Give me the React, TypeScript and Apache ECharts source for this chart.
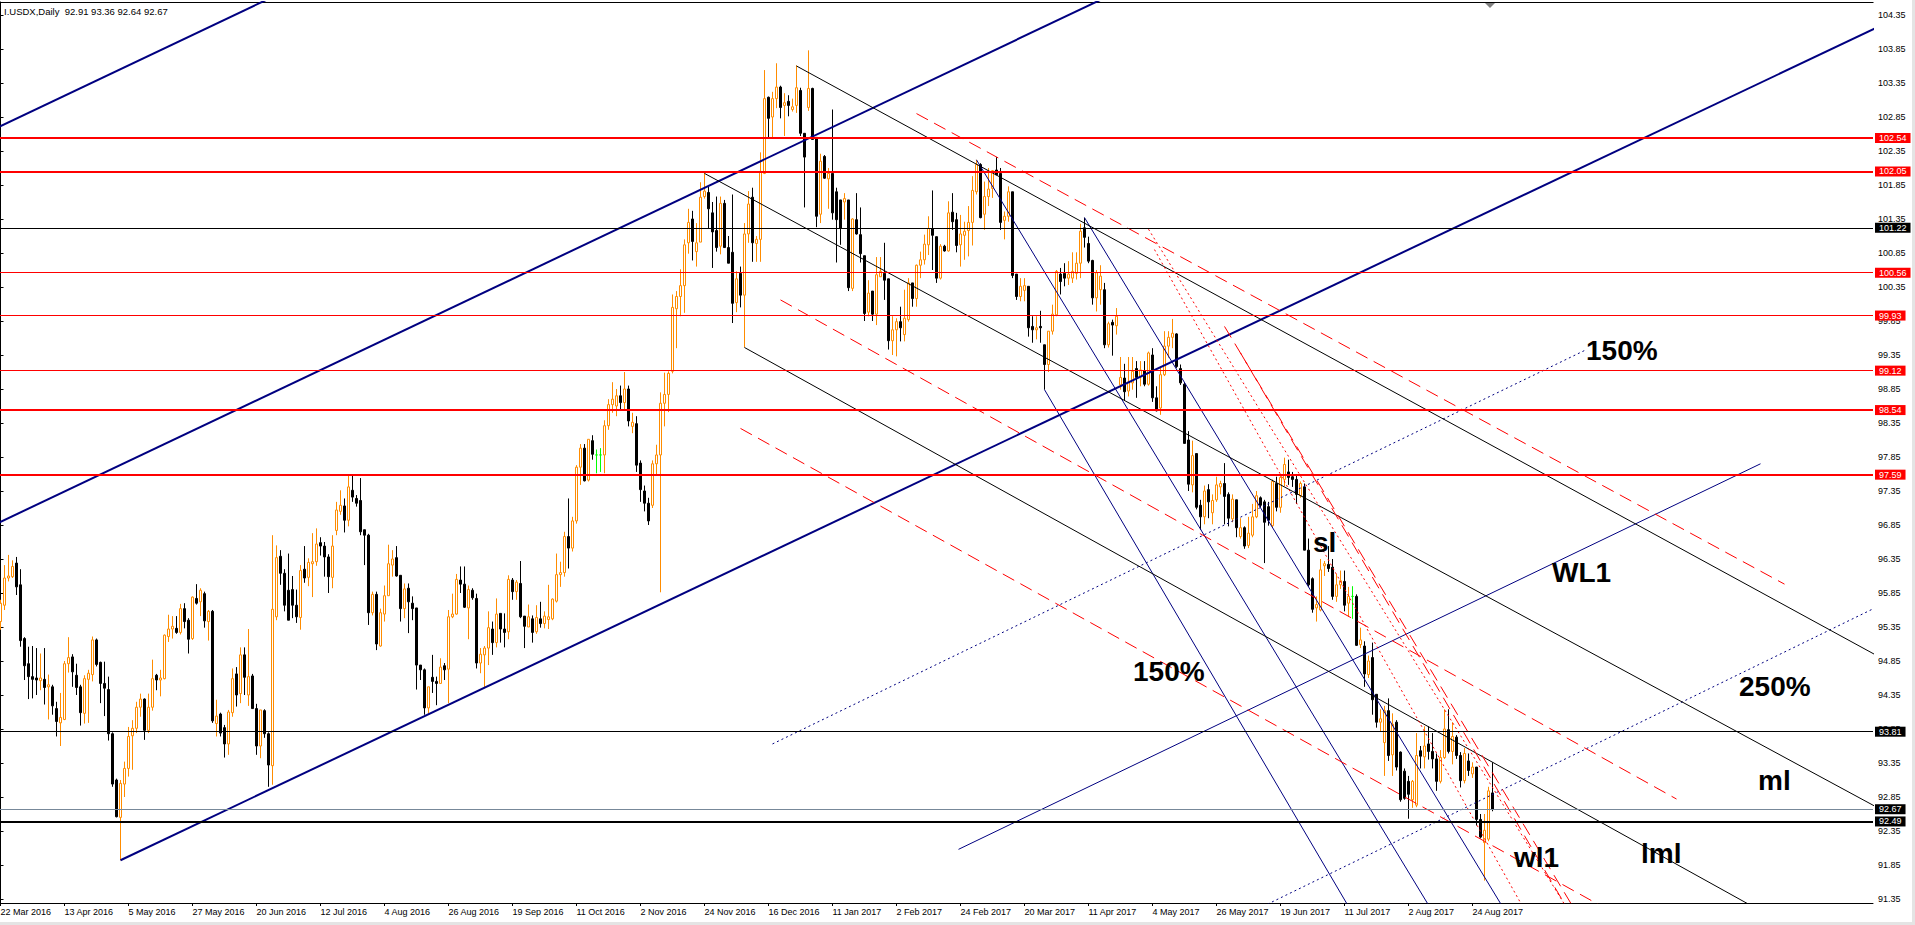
import React, { useEffect, useRef } from "react";
import * as echarts from "echarts";

// ---- tick labels ----
const dateLabels = [
  "22 Mar 2016", "13 Apr 2016", "5 May 2016", "27 May 2016", "20 Jun 2016", "12 Jul 2016",
  "4 Aug 2016", "26 Aug 2016", "19 Sep 2016", "11 Oct 2016", "2 Nov 2016", "24 Nov 2016",
  "16 Dec 2016", "11 Jan 2017", "2 Feb 2017", "24 Feb 2017", "20 Mar 2017", "11 Apr 2017",
  "4 May 2017", "26 May 2017", "19 Jun 2017", "11 Jul 2017", "2 Aug 2017", "24 Aug 2017",
];
const barsPerDateLabel = 16;
const priceTicks = [
  91.35, 91.85, 92.35, 92.85, 93.35, 93.85, 94.35, 94.85, 95.35, 95.85, 96.35, 96.85, 97.35,
  97.85, 98.35, 98.85, 99.35, 99.85, 100.35, 100.85, 101.35, 101.85, 102.35, 102.85, 103.35,
  103.85, 104.35,
];

// ---- daily bars (bar index = position in array) ----
const opens = [
  95.43, 95.67, 96.07, 96.09, 96.29, 95.97, 95.18, 94.81, 94.62, 94.60,
  94.56, 94.58, 94.47, 94.47, 94.15, 93.94, 93.99, 94.81, 94.91, 94.64,
  94.47, 94.08, 94.58, 94.65, 95.16, 94.83, 94.52, 94.43, 93.78, 93.10,
  92.55, 93.04, 93.27, 93.75, 93.86, 94.17, 94.29, 93.83, 94.17, 94.64,
  94.57, 94.59, 95.21, 95.32, 95.33, 95.27, 95.62, 95.45, 95.18, 95.77,
  95.72, 95.84, 95.43, 95.58, 93.93, 94.07, 93.87, 93.63, 94.09, 94.66,
  94.37, 94.94, 94.35, 94.63, 94.15, 93.60, 94.12, 93.78, 93.31, 95.50,
  96.39, 96.14, 95.89, 95.90, 95.67, 95.49, 96.20, 96.08, 96.28, 96.31,
  96.59, 96.54, 96.38, 96.08, 96.77, 97.05, 97.13, 96.92, 97.36, 97.24,
  97.21, 96.78, 96.70, 95.56, 95.83, 95.07, 95.54, 95.81, 96.26, 96.37,
  96.11, 95.62, 95.92, 95.70, 95.63, 94.79, 94.72, 94.16, 94.61, 94.55,
  94.52, 94.78, 94.73, 95.50, 95.54, 96.04, 95.98, 95.63, 95.89, 95.77,
  94.82, 94.94, 95.04, 95.32, 95.12, 95.55, 95.32, 95.28, 96.04, 95.87,
  95.99, 95.51, 95.35, 95.47, 95.28, 95.47, 95.40, 95.46, 95.47, 95.73,
  96.12, 96.15, 96.68, 96.51, 96.91, 97.70, 97.98, 97.51, 98.09, 97.88,
  97.88, 97.88, 98.31, 98.62, 98.60, 98.75, 98.65, 98.85, 98.30, 98.34,
  97.76, 97.35, 97.17, 97.14, 97.75, 97.88, 98.64, 98.77, 99.11, 100.03,
  100.21, 100.37, 101.00, 101.35, 100.87, 101.01, 101.68, 101.74, 101.44, 101.18,
  100.95, 101.58, 100.93, 100.86, 100.12, 100.55, 100.23, 101.13, 101.67, 100.99,
  101.05, 102.02, 103.14, 102.85, 103.12, 103.29, 103.02, 103.08, 102.96, 103.02,
  103.24, 102.61, 102.99, 103.27, 102.55, 101.42, 102.27, 101.94, 102.02, 101.75,
  101.63, 101.60, 101.63, 100.33, 101.34, 101.12, 100.81, 99.98, 100.29, 99.95,
  100.50, 100.55, 100.47, 99.56, 99.72, 99.84, 99.65, 99.87, 100.41, 100.18,
  100.67, 100.75, 100.97, 101.21, 101.09, 100.48, 100.95, 100.88, 101.45, 101.34,
  100.97, 101.11, 101.18, 101.30, 101.75, 102.15, 101.42, 101.68, 101.80, 102.07,
  102.02, 101.33, 101.39, 101.75, 100.54, 100.21, 100.30, 100.36, 99.77, 99.72,
  99.77, 99.50, 99.21, 99.70, 99.94, 100.54, 100.55, 100.48, 100.48, 100.55,
  100.70, 101.22, 100.99, 100.74, 100.19, 100.31, 100.31, 99.50, 99.83, 99.78,
  98.91, 99.01, 98.82, 98.94, 99.15, 99.03, 99.12, 98.92, 99.35, 98.72,
  98.57, 99.06, 99.48, 99.61, 99.66, 99.15, 98.92, 98.10, 97.44, 97.90,
  97.14, 96.97, 97.37, 97.03, 97.22, 97.41, 97.46, 97.30, 96.94, 97.22,
  96.68, 96.81, 96.55, 96.70, 96.97, 97.25, 97.19, 97.12, 96.84, 97.46,
  97.11, 97.52, 97.63, 97.56, 97.52, 97.28, 97.41, 96.48, 96.06, 95.63,
  95.60, 96.25, 96.27, 96.23, 95.80, 95.97, 96.02, 95.70, 95.80, 95.80,
  95.09, 95.07, 94.65, 94.90, 94.36, 93.95, 93.65, 94.12, 93.47, 93.95,
  93.51, 93.23, 93.08, 92.81, 92.73, 93.53, 93.44, 93.63, 93.52, 93.41,
  93.08, 93.43, 93.84, 93.52, 93.73, 93.46, 93.09, 93.38, 93.19, 93.29,
  92.52, 92.18, 92.23, 92.91,
];
const highs = [
  95.75, 96.26, 96.41, 96.33, 96.38, 96.20, 95.20, 95.06, 95.07, 95.04,
  94.96, 95.04, 94.65, 94.50, 94.25, 94.38, 94.85, 95.20, 94.95, 94.81,
  94.50, 94.64, 94.72, 95.21, 95.18, 94.84, 94.84, 94.62, 93.80, 93.12,
  93.10, 93.37, 93.88, 93.98, 94.25, 94.37, 94.30, 94.37, 94.87, 94.66,
  94.72, 95.24, 95.53, 95.51, 95.51, 95.69, 95.70, 95.48, 95.80, 95.98,
  95.92, 95.87, 95.60, 95.60, 94.28, 94.09, 93.91, 94.13, 94.74, 94.76,
  95.05, 95.05, 95.32, 94.66, 94.22, 94.13, 94.14, 93.80, 96.70, 96.55,
  96.48, 96.20, 96.43, 96.10, 95.90, 96.26, 96.54, 96.36, 96.73, 96.80,
  96.67, 96.60, 96.42, 96.70, 97.19, 97.36, 97.24, 97.58, 97.58, 97.29,
  97.54, 96.78, 96.72, 95.87, 95.87, 95.62, 95.96, 96.56, 96.48, 96.54,
  96.11, 95.99, 95.99, 95.80, 95.63, 94.79, 94.74, 94.47, 94.94, 94.62,
  94.89, 94.82, 95.60, 95.84, 96.13, 96.24, 96.24, 95.96, 95.92, 95.84,
  95.04, 95.07, 95.58, 95.43, 95.77, 95.55, 95.55, 96.11, 96.07, 96.04,
  96.32, 95.51, 95.68, 95.52, 95.67, 95.72, 95.58, 95.97, 95.77, 96.43,
  96.31, 96.75, 97.24, 96.97, 97.73, 98.04, 98.04, 98.11, 98.17, 97.96,
  97.98, 98.39, 98.70, 98.95, 98.85, 98.90, 99.10, 98.90, 98.50, 98.45,
  97.80, 97.43, 97.25, 97.80, 98.03, 98.80, 99.09, 99.11, 100.24, 100.29,
  100.61, 101.05, 101.50, 101.47, 101.29, 101.89, 102.05, 101.82, 101.60, 101.68,
  101.68, 101.63, 101.10, 101.71, 100.58, 100.65, 101.29, 101.76, 101.81, 101.10,
  102.33, 103.54, 103.15, 103.22, 103.64, 103.31, 103.20, 103.17, 103.12, 103.61,
  103.28, 102.61, 103.83, 103.28, 102.55, 102.31, 102.29, 102.10, 102.96, 101.81,
  101.63, 101.73, 101.63, 101.36, 101.73, 101.52, 100.81, 100.45, 100.29, 100.79,
  100.79, 101.00, 100.47, 99.92, 99.89, 100.06, 100.31, 100.48, 100.41, 100.68,
  100.87, 101.12, 101.39, 101.77, 101.09, 100.98, 100.97, 101.61, 101.73, 101.44,
  101.41, 101.31, 101.54, 101.98, 102.22, 102.17, 101.90, 102.10, 102.07, 102.26,
  102.10, 101.46, 101.83, 101.75, 100.54, 100.48, 100.48, 100.36, 99.92, 99.92,
  100.00, 99.50, 99.70, 100.09, 100.60, 100.63, 100.70, 100.73, 100.86, 100.86,
  101.28, 101.37, 101.09, 100.75, 100.60, 100.67, 100.41, 99.84, 99.87, 100.04,
  99.32, 99.22, 99.32, 99.32, 99.26, 99.26, 99.26, 99.40, 99.45, 98.89,
  99.18, 99.70, 99.70, 99.88, 99.67, 99.21, 98.94, 98.23, 98.09, 97.90,
  97.22, 97.43, 97.45, 97.30, 97.56, 97.50, 97.76, 97.33, 97.30, 97.22,
  96.95, 96.83, 96.97, 97.16, 97.35, 97.27, 97.22, 97.19, 97.52, 97.56,
  97.57, 97.84, 97.81, 97.63, 97.60, 97.49, 97.46, 96.65, 96.08, 95.80,
  96.35, 96.32, 96.54, 96.35, 96.13, 96.18, 96.18, 95.94, 95.95, 95.83,
  95.34, 95.14, 94.93, 95.12, 94.36, 94.14, 94.19, 94.30, 94.08, 93.98,
  93.52, 93.27, 93.16, 93.10, 93.79, 93.60, 93.89, 93.89, 93.79, 93.49,
  93.54, 94.14, 94.14, 93.95, 93.76, 93.51, 93.57, 93.49, 93.36, 93.29,
  92.60, 92.60, 93.00, 93.36,
];
const lows = [
  95.31, 95.60, 96.02, 96.07, 95.82, 95.06, 94.57, 94.29, 94.30, 94.35,
  94.42, 94.21, 93.99, 94.06, 93.74, 93.60, 93.98, 94.68, 94.47, 94.35,
  93.90, 93.93, 93.94, 94.55, 94.77, 94.23, 94.04, 93.68, 93.00, 92.55,
  91.92, 92.85, 93.15, 93.25, 93.79, 94.03, 93.69, 93.79, 94.12, 94.42,
  94.33, 94.58, 95.13, 95.18, 95.25, 95.24, 95.33, 94.96, 95.16, 95.68,
  95.51, 95.34, 95.15, 93.94, 93.74, 93.74, 93.43, 93.47, 94.03, 94.18,
  94.23, 94.35, 94.19, 94.15, 93.47, 93.42, 93.72, 93.00, 93.03, 95.45,
  95.97, 95.58, 95.45, 95.48, 95.41, 95.31, 96.00, 95.95, 95.79, 96.25,
  96.40, 96.09, 95.85, 95.92, 96.70, 97.00, 96.74, 96.83, 97.19, 97.12,
  96.70, 96.26, 95.38, 95.52, 95.01, 95.06, 95.43, 95.81, 96.09, 96.09,
  95.43, 95.48, 95.26, 95.45, 94.43, 94.57, 94.06, 94.08, 94.38, 94.20,
  94.52, 94.57, 94.23, 95.48, 95.53, 95.85, 95.63, 95.17, 95.75, 94.74,
  94.67, 94.45, 94.79, 94.94, 95.05, 95.12, 95.05, 95.17, 95.75, 95.75,
  95.48, 95.04, 95.35, 95.12, 95.25, 95.34, 95.33, 95.32, 95.45, 95.71,
  95.94, 96.09, 96.21, 96.46, 96.87, 97.44, 97.49, 97.49, 97.81, 97.61,
  97.63, 97.61, 98.25, 98.50, 98.45, 98.55, 98.55, 98.30, 98.20, 97.63,
  97.19, 97.05, 96.85, 97.10, 97.59, 95.86, 98.30, 98.51, 99.08, 99.45,
  99.92, 99.97, 100.84, 100.74, 100.65, 101.01, 101.65, 101.21, 100.63, 100.87,
  100.83, 100.93, 100.70, 99.82, 99.98, 100.05, 99.46, 101.00, 100.72, 100.72,
  100.72, 102.01, 102.55, 102.54, 102.98, 102.83, 102.57, 102.86, 102.93, 102.91,
  102.57, 101.52, 102.94, 102.52, 101.23, 101.29, 101.94, 101.50, 101.34, 100.71,
  100.97, 101.34, 100.29, 100.29, 101.12, 100.71, 99.85, 99.92, 99.85, 99.79,
  100.50, 100.16, 99.43, 99.35, 99.33, 99.55, 99.55, 99.84, 100.06, 100.06,
  100.48, 100.68, 100.82, 100.60, 100.41, 100.46, 100.87, 100.87, 101.19, 100.86,
  100.65, 100.75, 100.80, 100.96, 101.71, 101.36, 101.19, 101.54, 101.66, 102.00,
  101.19, 101.05, 101.31, 100.48, 100.16, 100.14, 100.14, 99.62, 99.53, 99.58,
  99.53, 98.84, 99.10, 99.65, 99.92, 100.24, 100.36, 100.38, 100.41, 100.46,
  100.48, 100.93, 100.70, 100.09, 99.99, 100.09, 99.45, 99.46, 99.34, 99.65,
  98.84, 98.68, 98.74, 98.84, 98.72, 98.89, 98.89, 98.90, 98.66, 98.52,
  98.47, 99.04, 99.31, 99.45, 99.16, 98.91, 98.05, 97.35, 97.33, 97.08,
  96.78, 96.86, 96.95, 96.86, 97.19, 97.30, 96.86, 96.83, 96.89, 96.67,
  96.65, 96.50, 96.51, 96.67, 96.95, 97.11, 96.29, 96.84, 96.81, 97.05,
  97.03, 97.42, 97.44, 97.41, 97.16, 97.25, 96.48, 95.94, 95.56, 95.43,
  95.58, 96.10, 96.16, 95.75, 95.72, 95.91, 95.58, 95.50, 95.47, 95.07,
  95.04, 94.47, 94.60, 94.06, 93.87, 93.81, 93.16, 93.38, 93.16, 93.24,
  92.78, 92.81, 92.53, 92.69, 92.70, 93.27, 93.27, 93.40, 93.27, 92.94,
  93.05, 93.41, 93.49, 93.33, 93.41, 92.99, 93.05, 93.16, 93.13, 92.43,
  92.24, 91.62, 92.20, 92.64,
];
const closes = [
  95.70, 96.07, 96.10, 96.24, 95.94, 95.15, 94.78, 94.62, 94.58, 94.57,
  94.60, 94.46, 94.50, 94.19, 93.96, 94.02, 94.81, 94.90, 94.69, 94.46,
  94.09, 94.59, 94.67, 95.16, 94.80, 94.52, 94.45, 93.78, 93.04, 92.56,
  93.05, 93.27, 93.74, 93.86, 94.17, 94.29, 93.83, 94.17, 94.59, 94.57,
  94.60, 95.23, 95.32, 95.36, 95.27, 95.62, 95.43, 95.17, 95.79, 95.70,
  95.89, 95.44, 95.58, 93.97, 94.04, 93.79, 93.63, 94.10, 94.59, 94.35,
  94.94, 94.61, 94.62, 94.15, 93.60, 94.13, 93.78, 93.32, 95.61, 96.37,
  96.14, 95.67, 95.45, 95.67, 95.50, 96.18, 96.07, 96.30, 96.31, 96.57,
  96.54, 96.38, 96.09, 96.54, 97.07, 97.14, 96.92, 97.41, 97.26, 97.17,
  96.75, 96.70, 95.56, 95.83, 95.10, 95.56, 95.81, 96.28, 96.35, 96.10,
  95.62, 95.91, 95.72, 95.62, 94.79, 94.72, 94.16, 94.47, 94.55, 94.52,
  94.76, 94.72, 95.50, 95.54, 96.05, 95.98, 95.64, 95.90, 95.78, 94.82,
  94.95, 95.04, 95.34, 95.12, 95.54, 95.32, 95.27, 96.05, 95.87, 96.01,
  95.50, 95.36, 95.50, 95.27, 95.49, 95.40, 95.51, 95.50, 95.76, 96.12,
  96.15, 96.68, 96.51, 96.91, 97.70, 97.98, 97.50, 98.11, 97.89, 97.88,
  97.88, 98.31, 98.62, 98.70, 98.75, 98.65, 98.85, 98.38, 98.36, 97.73,
  97.37, 97.17, 96.91, 97.75, 97.88, 98.64, 98.77, 99.08, 100.05, 100.21,
  100.37, 100.97, 101.30, 101.02, 101.00, 101.67, 101.76, 101.50, 101.16, 100.93,
  101.58, 100.93, 100.70, 100.11, 100.47, 100.23, 101.13, 101.57, 101.00, 101.05,
  102.05, 103.12, 102.83, 103.12, 103.29, 102.99, 103.06, 103.02, 103.00, 103.28,
  102.61, 102.26, 103.27, 102.52, 101.39, 102.20, 101.95, 102.02, 101.44, 101.34,
  101.21, 101.65, 100.34, 101.35, 101.13, 100.84, 99.96, 100.26, 99.95, 100.53,
  100.58, 100.45, 99.56, 99.72, 99.84, 99.75, 99.89, 100.41, 100.18, 100.67,
  100.75, 100.98, 101.21, 101.11, 100.48, 100.95, 100.88, 101.44, 101.31, 100.96,
  101.13, 101.17, 101.30, 101.77, 102.15, 101.37, 101.68, 101.79, 102.06, 102.00,
  101.30, 101.39, 101.75, 100.52, 100.21, 100.36, 100.37, 99.75, 99.72, 99.75,
  99.75, 99.21, 99.70, 99.95, 100.58, 100.43, 100.48, 100.54, 100.58, 100.70,
  101.17, 101.08, 100.73, 100.19, 100.56, 100.51, 99.50, 99.81, 99.79, 99.92,
  99.02, 98.81, 98.95, 99.11, 99.02, 99.13, 98.92, 99.38, 98.72, 98.53,
  99.06, 99.48, 99.61, 99.67, 99.18, 98.94, 98.05, 97.45, 97.87, 97.11,
  96.97, 97.35, 97.19, 97.21, 97.44, 97.46, 97.27, 96.95, 97.23, 96.81,
  96.81, 96.54, 96.73, 96.97, 97.28, 97.14, 96.89, 96.92, 97.49, 97.11,
  97.55, 97.74, 97.55, 97.52, 97.30, 97.46, 96.48, 95.97, 95.61, 95.68,
  96.19, 96.28, 96.21, 95.80, 95.97, 96.03, 95.67, 95.80, 95.80, 95.08,
  95.16, 94.66, 94.85, 94.28, 93.95, 94.00, 94.12, 93.46, 93.92, 93.29,
  92.81, 92.83, 92.89, 93.08, 93.46, 93.45, 93.60, 93.52, 93.41, 93.08,
  93.43, 93.85, 93.52, 93.74, 93.46, 93.09, 93.49, 93.24, 93.29, 92.52,
  92.26, 92.36, 92.94, 92.67,
];

// ---- horizontal price levels ----
const redLevels = [102.54, 102.05, 100.56, 99.93, 99.12, 98.54, 97.59];
const blackLevels = [101.22, 93.81, 92.49];
const lastPrice = 92.67;

// ---- drawn objects, anchors as [bar index, price] ----
const channelLines = [
  [[-2, 102.66], [80, 104.95]],
  [[-2, 96.84], [300, 105.27]],
  [[30, 91.92], [470, 104.19]],
];
const warningLine = [[239.5, 92.08], [440, 97.75]];
const steepBlueLines = [
  [[244, 102.22], [360, 90.97]],
  [[271, 101.37], [380, 90.8]],
  [[261, 98.84], [340, 90.94]],
];
const dottedBlueLines = [
  [[193, 93.63], [396.5, 99.43]],
  [[310, 91.08], [470, 95.67]],
];
const blackChannel = [
  [[199, 103.6], [470, 94.9]],
  [[176, 102.02], [470, 92.67]],
  [[186, 99.46], [450, 90.85]],
];
const redDashedChannel = [
  [[229, 102.9], [446, 95.98]],
  [[195, 100.16], [419, 92.82]],
  [[185, 98.27], [420, 90.6]],
];
const redDottedSteep = [
  [[287, 101.2], [395, 90.89]],
  [[288.5, 100.9], [385, 90.77]],
];
const redDashedSteep = [
  [[306, 99.77], [395, 91.05]],
  [[310, 99.38], [395, 90.88]],
];
const annotations = ["150%", "WL1", "250%", "ml", "lml", "wl1", "sl", "150%"];
const titleText = "I.USDX,Daily  92.91 93.36 92.64 92.67";

const FONT = "Liberation Sans";
const W = 1915;
const H = 925;

export default function App() {
  const ref = useRef<HTMLDivElement>(null);

  useEffect(() => {
    if (!ref.current) return;
    const html = document.documentElement;
    const body = document.body;
    html.style.overflow = "hidden";
    body.style.overflow = "hidden";
    body.style.margin = "0";

    const chart = echarts.init(ref.current, undefined, { renderer: "svg" });

    const candleData = opens.map((o, i) => [i, o, closes[i], lows[i], highs[i]]);
    const dateTickValues = dateLabels.map((_, i) => i * barsPerDateLabel);

    const lineSeries = (pts: number[][], color: string, width: number, type: any) => ({
      type: "line",
      data: pts,
      symbol: "none",
      showSymbol: false,
      silent: true,
      clip: true,
      z: 3,
      lineStyle: { color, width, type },
      emphasis: { disabled: true },
    });

    const series: any[] = [];
    const levelLabel = (v: number, bg: string) => ({
      show: true,
      position: "end",
      distance: 2,
      formatter: v.toFixed(2),
      color: "#ffffff",
      backgroundColor: bg,
      padding: [0, 4, 0, 4],
      lineHeight: 10,
      fontSize: 9,
      fontFamily: FONT,
    });
    const thickRed = new Set([102.54, 102.05, 98.54, 97.59]);
    const markData: any[] = [
      ...redLevels.map((v) => ({
        yAxis: v,
        lineStyle: { color: "#ff0000", width: thickRed.has(v) ? 2 : 1, type: "solid" },
        label: levelLabel(v, "#ff0000"),
      })),
      ...blackLevels.map((v, i) => ({
        yAxis: v,
        lineStyle: { color: "#000000", width: i === blackLevels.length - 1 ? 2 : 1, type: "solid" },
        label: levelLabel(v, "#000000"),
      })),
      {
        yAxis: lastPrice,
        lineStyle: { color: "#778899", width: 1, type: "solid" },
        label: levelLabel(lastPrice, "#000000"),
      },
    ];

    series.push({
      type: "candlestick",
      data: candleData,
      dimensions: ["idx", "open", "close", "lowest", "highest"],
      encode: { x: "idx", y: ["open", "close", "lowest", "highest"] },
      barWidth: 2,
      clip: true,
      z: 2,
      itemStyle: {
        color: "#ffffff",
        color0: "#000000",
        borderColor: "#ff8c00",
        borderColor0: "#000000",
        borderColorDoji: "#00ff00",
        borderWidth: 1,
      },
      emphasis: { disabled: true },
      markLine: {
        silent: true,
        symbol: ["none", "none"],
        animation: false,
        data: markData,
      },
    });

    channelLines.forEach((l) => series.push(lineSeries(l, "#000080", 2, "solid")));
    series.push(lineSeries(warningLine, "#000080", 1, "solid"));
    steepBlueLines.forEach((l) => series.push(lineSeries(l, "#000080", 1, "solid")));
    dottedBlueLines.forEach((l) => series.push(lineSeries(l, "#000080", 1, [2, 3])));
    blackChannel.forEach((l) => series.push(lineSeries(l, "#000000", 1, "solid")));
    redDashedChannel.forEach((l) => series.push(lineSeries(l, "#ff0000", 1, [13, 7])));
    redDottedSteep.forEach((l) => series.push(lineSeries(l, "#ff0000", 1, [2, 3])));
    redDashedSteep.forEach((l) => series.push(lineSeries(l, "#ff0000", 1, [13, 7])));

    // annotation placements (pixel positions of the drawn labels)
    const annPos = [
      [1586, 350], [1552, 572], [1739, 686], [1758, 780],
      [1641, 853], [1514, 857], [1313, 542], [1133, 671],
    ];
    const graphics: any[] = annotations.map((t, i) => ({
      type: "text",
      x: annPos[i][0],
      y: annPos[i][1],
      silent: true,
      z: 10,
      style: {
        text: t,
        fill: "#000000",
        fontSize: 28,
        fontWeight: "bold",
        fontFamily: FONT,
        verticalAlign: "middle",
        align: "left",
      },
    }));
    graphics.push(
      {
        type: "text",
        x: 4,
        y: 11,
        silent: true,
        z: 10,
        style: { text: titleText, fill: "#000", fontSize: 9.5, fontFamily: FONT, verticalAlign: "middle" },
      },
      {
        type: "line",
        silent: true,
        shape: { x1: 0, y1: 2.5, x2: 1873.5, y2: 2.5 },
        style: { stroke: "#000", lineWidth: 1 },
      },
      {
        type: "polygon",
        silent: true,
        shape: { points: [[1485, 3], [1495, 3], [1490, 8]] },
        style: { fill: "#808080" },
      },
      { type: "rect", silent: true, shape: { x: 1912, y: 0, width: 3, height: H }, style: { fill: "#e4e4e4" } },
      { type: "rect", silent: true, shape: { x: 0, y: 922, width: W, height: 3 }, style: { fill: "#e4e4e4" } }
    );

    chart.setOption({
      animation: false,
      backgroundColor: "#ffffff",
      grid: {
        left: 0,
        right: 42,
        top: 2,
        bottom: 22,
        containLabel: false,
        outerBoundsMode: "none",
        show: false,
      },
      xAxis: {
        type: "value",
        min: -0.125,
        max: 468.125,
        axisLine: { show: true, onZero: false, lineStyle: { color: "#000", width: 1 } },
        axisTick: {
          show: true,
          length: 3,
          customValues: dateTickValues,
          lineStyle: { color: "#000" },
        },
        axisLabel: {
          show: true,
          customValues: dateTickValues,
          formatter: (v: number) => dateLabels[Math.round(v / barsPerDateLabel)] ?? "",
          align: "left",
          margin: 3,
          fontSize: 9,
          lineHeight: 11,
          fontFamily: FONT,
          color: "#000",
        },
        splitLine: { show: false },
      },
      yAxis: {
        type: "value",
        position: "right",
        min: 91.291,
        max: 104.541,
        scale: true,
        axisLine: { show: true, lineStyle: { color: "#000", width: 1 } },
        axisTick: {
          show: true,
          length: 3,
          customValues: priceTicks,
          lineStyle: { color: "#000" },
        },
        axisLabel: {
          show: true,
          customValues: priceTicks,
          formatter: (v: number) => v.toFixed(2),
          margin: 5,
          fontSize: 9,
          fontFamily: FONT,
          color: "#000",
        },
        splitLine: { show: false },
      },
      tooltip: { show: false },
      series,
      graphic: graphics,
    });

    return () => chart.dispose();
  }, []);

  return (
    <div
      ref={ref}
      style={{ position: "fixed", left: 0, top: 0, width: W, height: H, background: "#fff" }}
    />
  );
}
